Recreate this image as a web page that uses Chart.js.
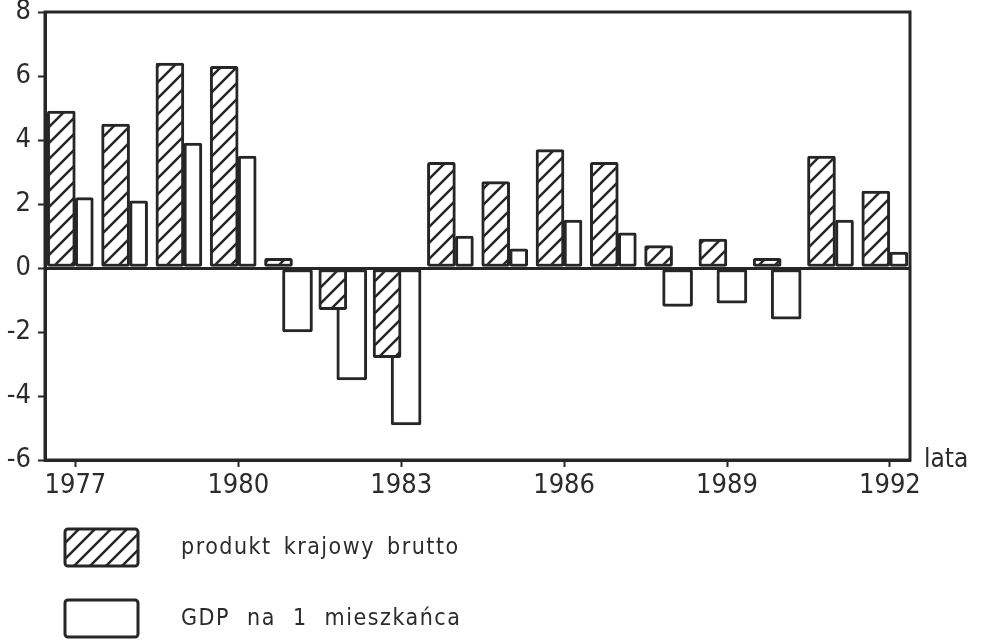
<!DOCTYPE html>
<html>
<head>
<meta charset="utf-8">
<script src="https://cdn.jsdelivr.net/npm/chart.js@4.4.0/dist/chart.umd.min.js"></script>
<style>
  html, body { margin: 0; padding: 0; background: #fff; }
  #wrap { width: 982px; height: 640px; }
</style>
</head>
<body>
<div id="wrap"><canvas id="chart"></canvas></div>
<script>
// --- dane (%) ---
const years = [1977, 1978, 1979, 1980, 1981, 1982, 1983, 1984, 1985, 1986, 1987, 1988, 1989, 1990, 1991, 1992];
const pkb = [4.9, 4.5, 6.4, 6.3, 0.3, -1.3, -2.8, 3.3, 2.7, 3.7, 3.3, 0.7, 0.9, 0.3, 3.5, 2.4];
const gdpPerCapita = [2.2, 2.1, 3.9, 3.5, -2.0, -3.5, -4.9, 1.0, 0.6, 1.5, 1.1, -1.2, -1.1, -1.6, 1.5, 0.5];
const yearTicks = [1977, 1980, 1983, 1986, 1989, 1992];
const legendLabels = ['produkt krajowy brutto', 'GDP na 1 mieszkańca'];
const axisTitle = 'lata';

const INK = '#262626';
const TEXT = '#2b2b2b';
const FONT = 'DejaVu Sans Condensed';

// przesunięcia słupków względem roku (w latach)
const HATCH_SHIFT = -0.26;
const WHITE_POS_SHIFT = 0.164;
const WHITE_NEG_SHIFT = 0.09;

function makeHatch() {
    const c = document.createElement('canvas');
    c.width = 16; c.height = 16;
    const g = c.getContext('2d');
    g.fillStyle = '#fff';
    g.fillRect(0, 0, 16, 16);
    g.strokeStyle = INK;
    g.lineWidth = 2.5;
    g.beginPath();
    g.moveTo(-2, 18); g.lineTo(18, -2);
    g.moveTo(-2, 2); g.lineTo(2, -2);
    g.moveTo(14, 18); g.lineTo(18, 14);
    g.stroke();
    return g.createPattern(c, 'repeat');
}
const hatch = makeHatch();

const pkbData = years.map((y, i) => ({ x: y + HATCH_SHIFT, y: pkb[i] }));
const gdpPos = years.map((y, i) => ({ x: y + WHITE_POS_SHIFT, y: gdpPerCapita[i] })).filter(p => p.y > 0);
const gdpNeg = years.map((y, i) => ({ x: y + WHITE_NEG_SHIFT, y: gdpPerCapita[i] })).filter(p => p.y < 0);

const barStyle = {
    borderColor: INK,
    borderWidth: 3,
    borderRadius: 2,
    borderSkipped: false,
    grouped: false
};

// ramka, opis osi i legenda
const extras = {
    id: 'extras',
    afterDatasetsDraw(chart) {
        const ctx = chart.ctx;
        const a = chart.chartArea;
        ctx.save();
        ctx.strokeStyle = INK;
        ctx.lineWidth = 3;
        ctx.strokeRect(a.left, a.top, a.right - a.left, a.bottom - a.top);

        ctx.fillStyle = TEXT;
        ctx.font = '26px "' + FONT + '"';
        ctx.textAlign = 'left';
        ctx.textBaseline = 'alphabetic';
        ctx.fillText(axisTitle, a.right + 14, a.bottom + 7);

        const fills = [hatch, '#fff'];
        const boxTop = [529, 600];
        const wordGap = ['4px', '9px'];
        ctx.font = '23px "' + FONT + '"';
        ctx.letterSpacing = '1.5px';
        ctx.textBaseline = 'middle';
        legendLabels.forEach((label, i) => {
            ctx.beginPath();
            ctx.roundRect(65, boxTop[i], 73, 37, 3);
            ctx.fillStyle = fills[i];
            ctx.fill();
            ctx.lineWidth = 3;
            ctx.strokeStyle = INK;
            ctx.stroke();
            ctx.fillStyle = TEXT;
            ctx.wordSpacing = wordGap[i];
            ctx.fillText(label, 181, boxTop[i] + 19);
        });
        ctx.restore();
    }
};

new Chart(document.getElementById('chart'), {
    type: 'bar',
    data: {
        datasets: [
            Object.assign({ label: legendLabels[0], data: pkbData, backgroundColor: hatch, barThickness: 28 }, barStyle),
            Object.assign({ label: legendLabels[1], data: gdpPos, backgroundColor: '#fff', barThickness: 18 }, barStyle),
            Object.assign({ label: legendLabels[1], data: gdpNeg, backgroundColor: '#fff', barThickness: 30 }, barStyle)
        ]
    },
    options: {
        responsive: true,
        maintainAspectRatio: false,
        animation: false,
        layout: { padding: { top: 12, right: 72, left: 0, bottom: 0 } },
        plugins: {
            legend: { display: false },
            tooltip: { enabled: false }
        },
        scales: {
            x: {
                type: 'linear',
                min: 1976.44,
                max: 1992.37,
                offset: false,
                afterBuildTicks: axis => { axis.ticks = yearTicks.map(v => ({ value: v })); },
                afterFit: axis => { axis.height = 180; axis.paddingLeft = 0; axis.paddingRight = 0; },
                grid: { offset: false, drawOnChartArea: false, tickLength: 7, tickColor: INK, tickWidth: 2 },
                border: { color: INK, width: 3 },
                ticks: {
                    color: TEXT,
                    padding: 3,
                    maxRotation: 0,
                    autoSkip: false,
                    font: { family: FONT, size: 27 },
                    callback: v => String(v)
                }
            },
            y: {
                min: -6,
                max: 8,
                afterFit: axis => { axis.width = 45; axis.paddingTop = 0; axis.paddingBottom = 0; },
                grid: {
                    color: c => (c.tick && c.tick.value === 0) ? INK : 'rgba(0,0,0,0)',
                    lineWidth: 3,
                    tickLength: 7,
                    tickColor: INK,
                    tickWidth: 2
                },
                border: { color: INK, width: 3 },
                ticks: {
                    stepSize: 2,
                    color: TEXT,
                    padding: 7,
                    font: { family: FONT, size: 27 },
                    callback: v => String(v)
                }
            }
        }
    },
    plugins: [extras]
});
</script>
</body>
</html>
